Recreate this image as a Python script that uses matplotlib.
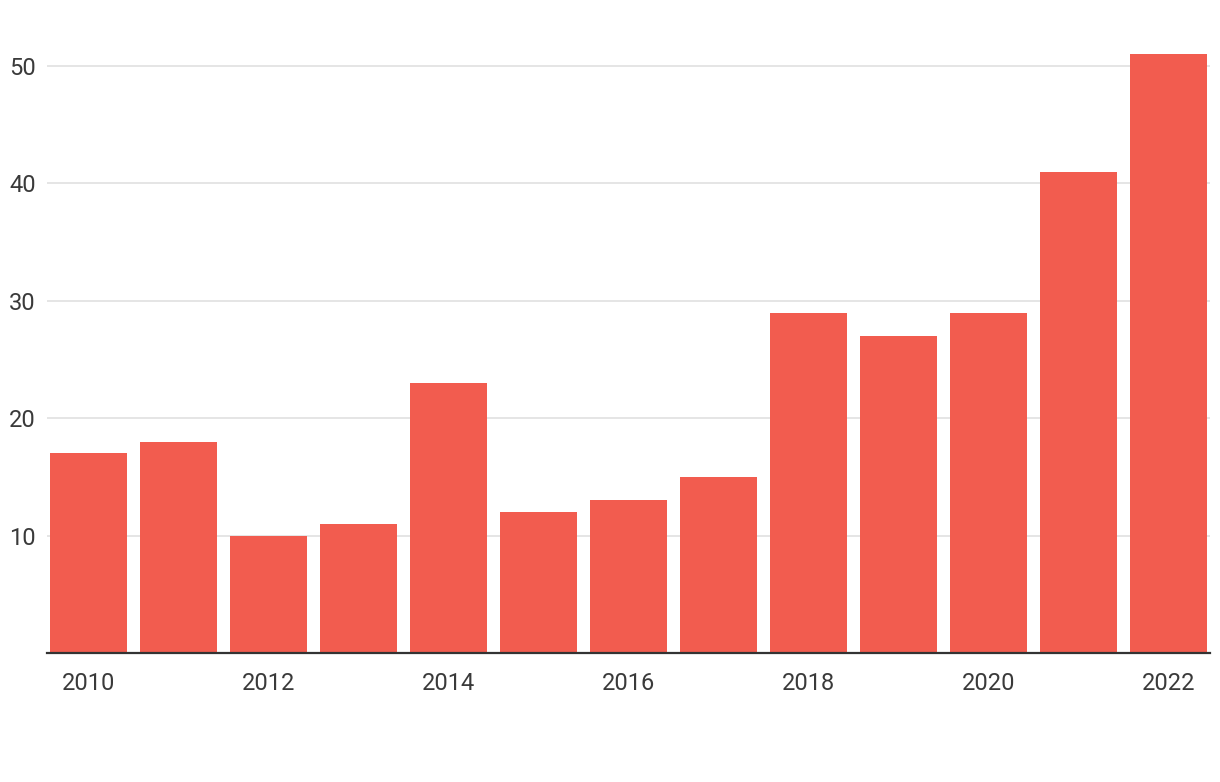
import matplotlib
matplotlib.use("Agg")
import matplotlib.pyplot as plt

# 연도별 값
years = [2010, 2011, 2012, 2013, 2014, 2015, 2016, 2017, 2018, 2019, 2020, 2021, 2022]
values = [17, 18, 10, 11, 23, 12, 13, 15, 29, 27, 29, 41, 51]
xtick_years = [2010, 2012, 2014, 2016, 2018, 2020, 2022]
ytick_values = [10, 20, 30, 40, 50]

plt.rcParams["font.family"] = ["Roboto", "DejaVu Sans"]

fig = plt.figure(figsize=(12.2, 7.82), dpi=100)
ax = fig.add_axes([47 / 1220, (782 - 653) / 782, (1210 - 47) / 1220, (653 - 19) / 782])

pos = list(range(len(years)))
ax.bar(pos, values, width=0.856, color="#F25C4F", zorder=2)

ax.set_xlim(-0.461, 12.461)
ax.set_ylim(0, 54)

ax.set_yticks(ytick_values)
ax.set_yticklabels([str(v) for v in ytick_values])
ax.grid(axis="y", color="#e3e3e3", linewidth=1.3, zorder=0)

ax.set_xticks([years.index(y) for y in xtick_years])
ax.set_xticklabels([str(y) for y in xtick_years])

for s in ["top", "right", "left"]:
    ax.spines[s].set_visible(False)
ax.spines["bottom"].set_color("#333333")
ax.spines["bottom"].set_linewidth(1.6)
ax.spines["bottom"].set_zorder(3)

ax.tick_params(axis="both", length=0, labelsize=17, labelcolor="#3a3a3a")
ax.tick_params(axis="y", pad=8)
ax.tick_params(axis="x", pad=14)

fig.savefig("out.png", dpi=100)
